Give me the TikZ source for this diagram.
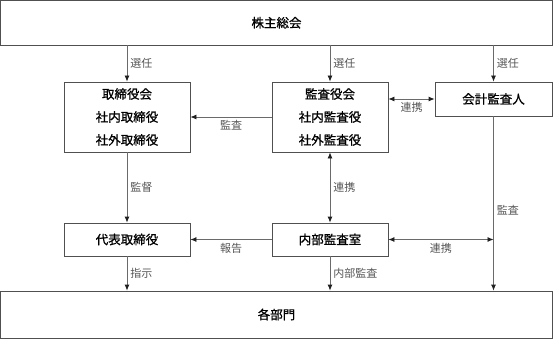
\documentclass[tikz,border=0pt]{standalone}
\usepackage{fontspec}
\setmainfont{Noto Sans CJK JP}
\newfontfamily\boxfont{Noto Sans CJK JP}[FakeBold=1]
\usetikzlibrary{positioning,arrows.meta}
\definecolor{linegray}{HTML}{6A6A6A}
\definecolor{boxgray}{HTML}{505050}
\definecolor{labelgray}{HTML}{555555}
\definecolor{tipgray}{HTML}{202020}

\begin{document}
\begin{tikzpicture}[
  x=1pt, y=-1pt,
  box/.style={draw=boxgray, line width=0.8pt, inner sep=0pt, align=center, text=black, font=\boxfont\fontsize{12.5}{23}\selectfont},
  lbl/.style={font=\fontsize{11}{13}\selectfont, text=labelgray, inner sep=3pt},
  arr/.style={draw=linegray, line width=0.8pt, -{Latex[length=6pt,width=5pt,color=tipgray]}},
  both/.style={arr, {Latex[length=6pt,width=5pt,color=tipgray]}-{Latex[length=6pt,width=5pt,color=tipgray]}}
]
\useasboundingbox (0,0) rectangle (553,339);
% boxes
\node[box, minimum width=552pt, minimum height=44.5pt] (sh) at (276.5,22.75) {株主総会};
\node[box, minimum width=126pt, minimum height=70pt] (board) at (127,117) {取締役会\\社内取締役\\社外取締役};
\node[box, minimum width=116pt, minimum height=70pt] (kansa) at (330,117) {監査役会\\社内監査役\\社外監査役};
\node[box, minimum width=117pt, minimum height=34pt] (acc) at (493.5,99) {会計監査人};
\node[box, minimum width=126pt, minimum height=33pt] (rep) at (127,239.5) {代表取締役};
\node[box, minimum width=116pt, minimum height=33pt] (ia) at (330,239.5) {内部監査室};
\node[box, minimum width=552pt, minimum height=47pt] (dept) at (276.5,314.5) {各部門};
% connectors
\draw[arr] (sh.south -| board) -- node[lbl, right] {選任} (board.north);
\draw[arr] (sh.south -| kansa) -- node[lbl, right] {選任} (kansa.north);
\draw[arr] (sh.south -| acc) -- node[lbl, right] {選任} (acc.north);
\draw[arr] (kansa.west) -- node[lbl, below] {監査} (board.east);
\draw[both] (kansa.east |- acc) -- node[lbl, below] {連携} (acc.west);
\draw[arr] (board.south) -- node[lbl, right] {監督} (rep.north);
\draw[both] (kansa.south) -- node[lbl, right] {連携} (ia.north);
\draw[arr] (acc.south) -- node[lbl, right, pos=0.54] {監査} (dept.north -| acc.south);
\draw[arr] (ia.west) -- node[lbl, below] {報告} (rep.east);
\coordinate (j) at (ia.east -| acc.south);
\draw[both] (ia.east) -- node[lbl, below] {連携} (j);
\draw[arr] (rep.south) -- node[lbl, right] {指示} (dept.north -| rep.south);
\draw[arr] (ia.south) -- node[lbl, right] {内部監査} (dept.north -| ia.south);
\end{tikzpicture}
\end{document}
